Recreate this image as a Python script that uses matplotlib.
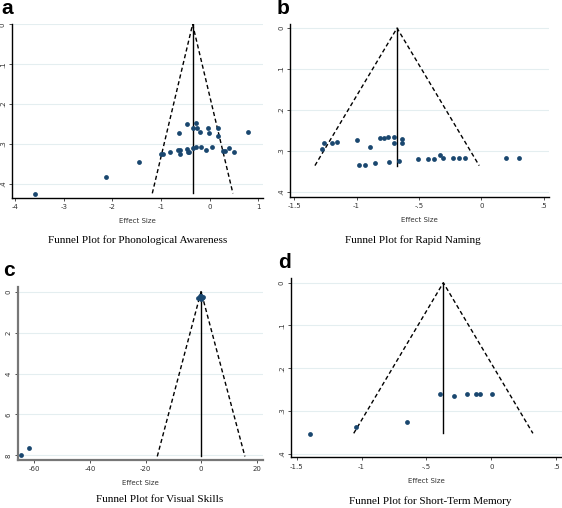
import matplotlib
matplotlib.use('Agg')
import matplotlib.pyplot as plt
import numpy as np

# Panel a: Phonological Awareness
pa_es = [-3.59, -2.13, -1.45, -1.01, -0.96, -0.81, -0.66, -0.61, -0.61, -0.64,
         -0.47, -0.47, -0.44, -0.42, -0.35, -0.35, -0.28, -0.27, -0.25, -0.20,
         -0.17, -0.07, -0.04, -0.02, 0.05, 0.17, 0.17, 0.27, 0.31, 0.39, 0.51, 0.80]
pa_se = [0.424, 0.382, 0.345, 0.325, 0.324, 0.320, 0.315, 0.314, 0.325, 0.272,
         0.250, 0.312, 0.320, 0.321, 0.260, 0.310, 0.308, 0.248, 0.259, 0.269,
         0.307, 0.316, 0.259, 0.273, 0.307, 0.259, 0.279, 0.318, 0.318, 0.310, 0.321, 0.269]
pa_pooled, pa_maxse = -0.35, 0.4236

# Panel b: Rapid Naming
rn_es = [-1.28, -1.26, -1.20, -1.16, -1.00, -0.98, -0.93, -0.89, -0.85, -0.81,
         -0.78, -0.75, -0.74, -0.70, -0.70, -0.66, -0.64, -0.64, -0.51, -0.43,
         -0.38, -0.33, -0.31, -0.23, -0.18, -0.13, 0.20, 0.30]
rn_se = [0.295, 0.282, 0.281, 0.279, 0.274, 0.334, 0.334, 0.290, 0.330, 0.268,
         0.268, 0.267, 0.327, 0.266, 0.281, 0.325, 0.272, 0.280, 0.321, 0.320,
         0.319, 0.309, 0.318, 0.317, 0.317, 0.317, 0.317, 0.318]
rn_pooled, rn_maxse = -0.676, 0.336

# Panel c: Visual Skills
vs_es = [-64.7, -61.9, -1.1, -0.5, 0.0, 0.4, 0.8, -0.2]
vs_se = [8.0, 7.63, 0.30, 0.22, 0.20, 0.32, 0.25, 0.36]
vs_pooled, vs_maxse = 0.0, 8.05

# Panel d: Short-Term Memory
stm_es = [-1.40, -1.045, -0.647, -0.398, -0.288, -0.187, -0.121, -0.090, 0.003]
stm_se = [0.354, 0.337, 0.325, 0.261, 0.264, 0.259, 0.259, 0.259, 0.259]
stm_pooled, stm_maxse = -0.370, 0.352

W, H = 562, 508
fig = plt.figure(figsize=(W / 100, H / 100), dpi=100)

navy = '#1a476f'
grid_col = '#e4eef0'


def add_axes(left, right, top, bottom):
    return fig.add_axes([left / W, 1 - bottom / H, (right - left) / W, (bottom - top) / H])


def funnel(ax, es, se, pooled, maxse, xlim, ylim, xticks, xlabels, yticks, ylabels,
           caption, cap_xy, spine_col='black'):
    for yt in yticks:
        ax.axhline(yt, color=grid_col, lw=0.8, zorder=0)
    half = 1.96 * maxse
    # pseudo 95% confidence limits
    ax.plot([pooled - half, pooled, pooled + half], [maxse, 0, maxse],
            color='black', ls=(0, (3, 2)), lw=1.0)
    ax.plot([pooled, pooled], [0, maxse], color='black', lw=1.0)
    ax.scatter(es, se, s=12, color=navy, zorder=3, linewidths=0)
    ax.set_xlim(*xlim)
    ax.set_ylim(*ylim)
    ax.set_xticks(xticks)
    ax.set_xticklabels(xlabels)
    ax.set_yticks(yticks)
    ax.set_yticklabels(ylabels, rotation=90, va='center')
    ax.tick_params(labelsize=5, length=2.5, width=0.6, pad=2, colors='#333333')
    for s in ['top', 'right']:
        ax.spines[s].set_visible(False)
    for s in ['left', 'bottom']:
        ax.spines[s].set_color(spine_col)
        ax.spines[s].set_linewidth(1.0 if spine_col == 'black' else 1.6)
    ax.set_xlabel('Effect Size', fontsize=5, labelpad=6, color='#333333')
    fig.text(cap_xy[0] / W, 1 - cap_xy[1] / H, caption, ha='center', va='center',
             fontsize=8, family='Liberation Serif')


ax_a = add_axes(12, 263, 24.3, 197.5)
funnel(ax_a, pa_es, pa_se, pa_pooled, pa_maxse, (-4.07, 1.1), (0.434, 0.0),
       [-4, -3, -2, -1, 0, 1], ['-4', '-3', '-2', '-1', '0', '1'],
       [0, 0.1, 0.2, 0.3, 0.4], ['0', '.1', '.2', '.3', '.4'],
       'Funnel Plot for Phonological Awareness', (137.5, 240))

ax_b = add_axes(290.3, 548.7, 24, 196.7)
funnel(ax_b, rn_es, rn_se, rn_pooled, rn_maxse, (-1.532, 0.54), (0.412, -0.01),
       [-1.5, -1, -0.5, 0, 0.5], ['-1.5', '-1', '-.5', '0', '.5'],
       [0, 0.1, 0.2, 0.3, 0.4], ['0', '.1', '.2', '.3', '.4'],
       'Funnel Plot for Rapid Naming', (412.7, 240))

ax_c = add_axes(17.5, 263.3, 287.3, 459.5)
funnel(ax_c, vs_es, vs_se, vs_pooled, vs_maxse, (-66.1, 22.4), (8.2, -0.21),
       [-60, -40, -20, 0, 20], ['-60', '-40', '-20', '0', '20'],
       [0, 2, 4, 6, 8], ['0', '2', '4', '6', '8'],
       'Funnel Plot for Visual Skills', (159.7, 499.5), spine_col='#777777')

ax_d = add_axes(291, 562, 278, 457.3)
funnel(ax_d, stm_es, stm_se, stm_pooled, stm_maxse, (-1.543, 0.544), (0.408, -0.011),
       [-1.5, -1, -0.5, 0, 0.5], ['-1.5', '-1', '-.5', '0', '.5'],
       [0, 0.1, 0.2, 0.3, 0.4], ['0', '.1', '.2', '.3', '.4'],
       'Funnel Plot for Short-Term Memory', (430, 501))

# panel letters
for lab, x, y in [('a', 1, 8), ('b', 277, 8), ('c', 3, 270), ('d', 278, 262)]:
    fig.text(x / W, 1 - y / H, lab, fontsize=15, fontweight='bold',
             family='Liberation Sans', ha='left', va='center')

plt.savefig('out.png', dpi=100)
